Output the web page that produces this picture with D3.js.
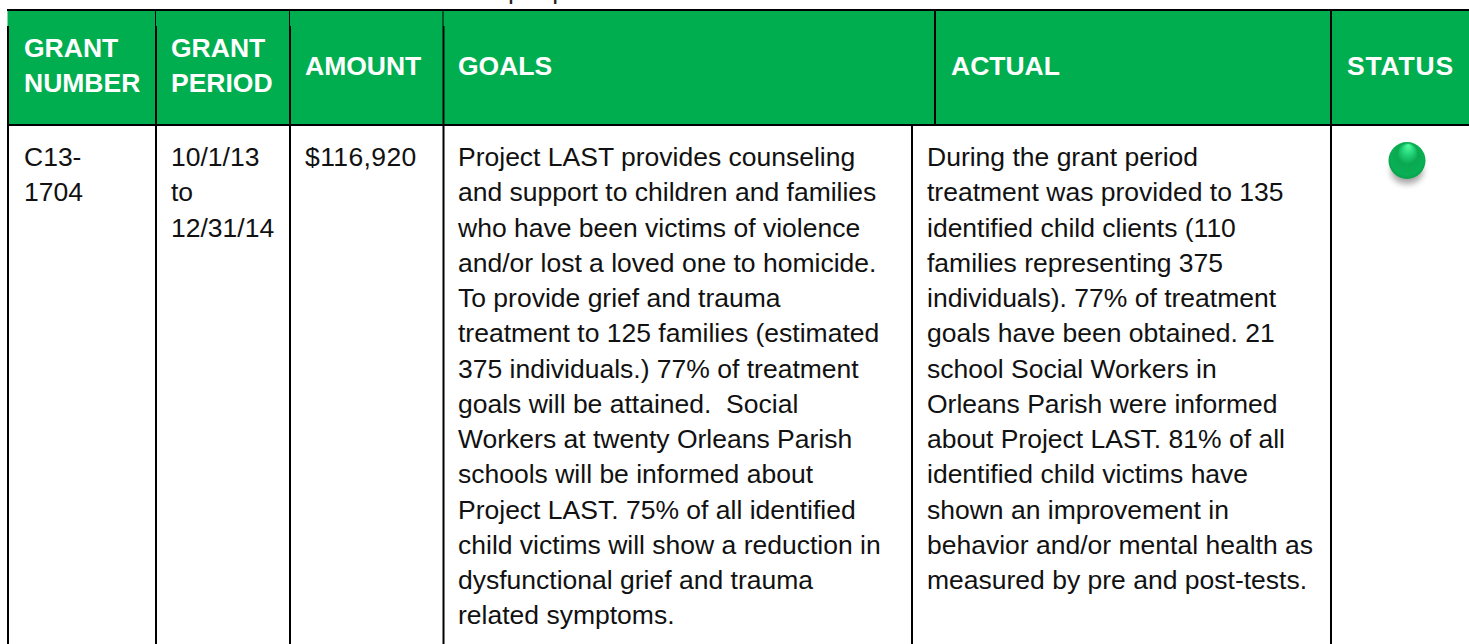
<!DOCTYPE html>
<html>
<head>
<meta charset="utf-8">
<script src="https://cdn.jsdelivr.net/npm/d3@7"></script>
<style>
  html, body { margin: 0; padding: 0; background: #fff; overflow: hidden; }
  svg { display: block; }
  text { font-family: "Liberation Sans", Arial, sans-serif; }
</style>
</head>
<body>
<div class="container"></div>
<script>
const headers = [["GRANT", "NUMBER"], ["GRANT", "PERIOD"], ["AMOUNT"], ["GOALS"], ["ACTUAL"], ["STATUS"]];

const grantNumber = ["C13-", "1704"];
const grantPeriod = ["10/1/13", "to", "12/31/14"];
const amount = ["$116,920"];
const goals = [
  "Project LAST provides counseling",
  "and support to children and families",
  "who have been victims of violence",
  "and/or lost a loved one to homicide.",
  "To provide grief and trauma",
  "treatment to 125 families (estimated",
  "375 individuals.) 77% of treatment",
  "goals will be attained.  Social",
  "Workers at twenty Orleans Parish",
  "schools will be informed about",
  "Project LAST. 75% of all identified",
  "child victims will show a reduction in",
  "dysfunctional grief and trauma",
  "related symptoms."
];
const actual = [
  "During the grant period",
  "treatment was provided to 135",
  "identified child clients (110",
  "families representing 375",
  "individuals). 77% of treatment",
  "goals have been obtained. 21",
  "school Social Workers in",
  "Orleans Parish were informed",
  "about Project LAST. 81% of all",
  "identified child victims have",
  "shown an improvement in",
  "behavior and/or mental health as",
  "measured by pre and post-tests."
];
const status = ["green"];

const w = 1469;
const h = 644;
const green = "#00ae50";
const lineH = 35.25;
const bodySize = 26.5;

// line-number scale shared by every body cell
const lineY = d3.scaleLinear().domain([0, 1]).range([166, 166 + lineH]);

const svg = d3.select(".container").append("svg")
  .attr("width", w)
  .attr("height", h);

const defs = svg.append("defs");

const ball = defs.append("radialGradient")
  .attr("id", "ball")
  .attr("cx", "50%").attr("cy", "50%").attr("r", "52%")
  .attr("fx", "54%").attr("fy", "8%");
ball.append("stop").attr("offset", "0%").attr("stop-color", "#55ff9f");
ball.append("stop").attr("offset", "30%").attr("stop-color", "#22d277");
ball.append("stop").attr("offset", "55%").attr("stop-color", "#0aa84f");
ball.append("stop").attr("offset", "85%").attr("stop-color", "#09b055");
ball.append("stop").attr("offset", "100%").attr("stop-color", "#07a049");

const blur = defs.append("filter").attr("id", "shadow")
  .attr("x", "-50%").attr("y", "-50%").attr("width", "200%").attr("height", "200%");
blur.append("feGaussianBlur").attr("stdDeviation", 3);

// cut off line of the page above the table, only its descenders show
svg.append("text")
  .attr("x", 508)
  .attr("y", -1.5)
  .attr("font-size", bodySize)
  .attr("fill", "#222")
  .text("people");

// header band
svg.append("rect")
  .attr("x", 7.5).attr("y", 10)
  .attr("width", w - 7.5).attr("height", 115)
  .attr("fill", green);

const drawLine = (x1, y1, x2, y2, width) => {
  svg.append("line")
    .attr("x1", x1).attr("y1", y1)
    .attr("x2", x2).attr("y2", y2)
    .attr("stroke", "#000")
    .attr("stroke-width", width);
};

drawLine(7, 10, w, 10, 2);
drawLine(7, 125, w, 125, 2);

drawLine(155.5, 10, 155.5, 26, 1);
drawLine(289.5, 10, 289.5, 26, 1);
drawLine(443, 10, 443, 26, 1);
drawLine(8, 26, 8, h, 2);
drawLine(156, 26, 156, h, 2);
drawLine(290, 26, 290, h, 2);
drawLine(443.5, 26, 443.5, h, 2);
drawLine(935, 10, 935, 125, 2);
drawLine(912, 125, 912, h, 2);
drawLine(1331, 10, 1331, h, 2);

// header labels
const headX = [24, 171, 305, 458, 951, 1347];
const headY = { 1: [75], 2: [57, 92] };

headers.forEach((lines, i) => {
  svg.append("g").selectAll("text")
    .data(lines)
    .enter()
    .append("text")
    .attr("x", headX[i])
    .attr("y", (d, k) => headY[lines.length][k])
    .attr("font-size", 26.5)
    .attr("font-weight", "bold")
    .attr("letter-spacing", headers[i][0] === "STATUS" ? 0.8 : 0)
    .attr("fill", "#fff")
    .text((d) => d);
});

// body cells
const cells = [
  { lines: grantNumber, x: 24, spacing: 0 },
  { lines: grantPeriod, x: 171, spacing: 0 },
  { lines: amount, x: 305, spacing: 0.4 },
  { lines: goals, x: 458, spacing: 0 },
  { lines: actual, x: 927, spacing: 0 }
];

cells.forEach((c) => {
  svg.append("g").selectAll("text")
    .data(c.lines)
    .enter()
    .append("text")
    .attr("x", c.x)
    .attr("y", (d, i) => lineY(i))
    .attr("font-size", bodySize)
    .attr("letter-spacing", c.spacing)
    .attr("fill", "#111")
    .attr("xml:space", "preserve")
    .text((d) => d);
});

// status ball
status.forEach(() => {
  svg.append("ellipse")
    .attr("cx", 1407).attr("cy", 171)
    .attr("rx", 16).attr("ry", 13)
    .attr("fill", "#000")
    .attr("opacity", 0.35)
    .attr("filter", "url(#shadow)");
  svg.append("ellipse")
    .attr("cx", 1407).attr("cy", 160.5)
    .attr("rx", 18.5).attr("ry", 18.5)
    .attr("fill", "url(#ball)");
});
</script>
</body>
</html>
